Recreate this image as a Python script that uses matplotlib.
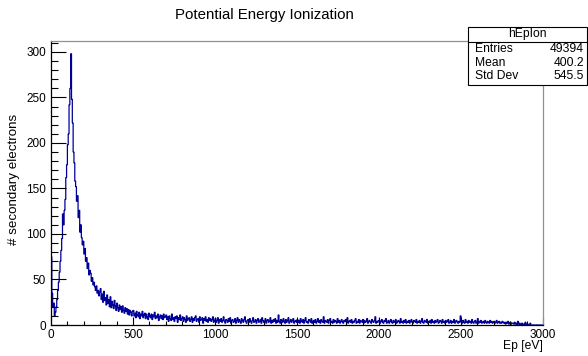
import numpy as np
import matplotlib
matplotlib.use('Agg')
import matplotlib.pyplot as plt
from matplotlib.patches import Rectangle
from matplotlib.lines import Line2D
from matplotlib.ticker import MultipleLocator

plt.rcParams['font.family'] = ['Liberation Sans', 'DejaVu Sans']

title = "Potential Energy Ionization"
x_label = "Ep [eV]"
y_label = "# secondary electrons"
hist_name = "hEpIon"
stat_names = ["Entries", "Mean", "Std Dev"]
stat_values = ["49394", "400.2", "545.5"]
bin_width = 5  # eV
x_range = (0, 3000)
y_max = 312
x_ticks = [0, 500, 1000, 1500, 2000, 2500, 3000]
y_ticks = [0, 50, 100, 150, 200, 250, 300]

# bin contents (5 eV bins)
counts_0_150 = [75, 35, 20, 24, 10, 14, 20, 28, 38, 47,
                58, 70, 82, 95, 122, 110, 126, 138, 162, 176,
                198, 210, 242, 260, 298, 248, 222, 190, 178, 158]
counts_150_300 = [152, 136, 142, 118, 126, 102, 110, 96, 88, 92,
                  78, 84, 70, 74, 62, 68, 55, 60, 57, 48,
                  52, 44, 47, 42, 38, 43, 35, 38, 32, 36]
counts_300_500 = [40, 28, 34, 25, 37, 27, 30, 22, 33, 24,
                  28, 20, 31, 19, 26, 22, 18, 27, 21, 16,
                  24, 19, 15, 22, 17, 20, 14, 21, 16, 13,
                  19, 15, 18, 12, 17, 11, 16, 14, 10, 15]
counts_500_700 = [16, 10, 13, 8, 15, 11, 9, 14, 7, 12,
                  10, 15, 8, 11, 13, 7, 12, 9, 6, 13,
                  10, 8, 12, 6, 11, 9, 14, 7, 10, 8,
                  12, 5, 9, 11, 7, 10, 6, 12, 8, 9]
counts_700_1000 = [11, 6, 9, 4, 10, 7, 5, 12, 6, 8, 4, 9, 7, 10, 3,
                   8, 6, 11, 5, 7, 9, 4, 8, 6, 3, 10, 5, 7, 8, 4,
                   6, 9, 3, 7, 5, 8, 10, 4, 6, 7, 3, 9, 5, 6, 8,
                   2, 7, 5, 9, 4, 6, 3, 8, 5, 7, 4, 6, 9, 3, 5]
counts_1000_1500 = [7, 3, 5, 8, 2, 6, 4, 7, 3, 5, 9, 4, 2, 6, 5, 3, 7, 4, 8, 2,
                    5, 6, 3, 4, 7, 2, 5, 8, 3, 6, 4, 2, 7, 5, 3, 6, 9, 4, 2, 5,
                    6, 3, 7, 4, 2, 5, 8, 3, 4, 6, 2, 5, 7, 3, 4, 6, 2, 8, 5, 3,
                    4, 7, 2, 5, 6, 3, 4, 8, 2, 5, 3, 6, 4, 7, 2, 5, 3, 11, 4, 2,
                    6, 5, 3, 7, 4, 2, 6, 3, 5, 8, 2, 4, 6, 3, 5, 7, 2, 4, 5, 3]
counts_1500_2000 = [6, 3, 5, 2, 7, 4, 3, 6, 2, 5, 8, 3, 4, 2, 6, 5, 3, 7, 2, 4,
                    5, 3, 6, 2, 4, 7, 3, 5, 2, 6, 4, 3, 9, 2, 5, 4, 3, 6, 2, 5,
                    7, 3, 4, 2, 6, 3, 5, 4, 2, 7, 3, 5, 2, 4, 6, 3, 2, 5, 4, 6,
                    3, 8, 2, 4, 5, 3, 6, 2, 4, 3, 5, 7, 2, 4, 3, 6, 2, 5, 4, 3,
                    6, 2, 5, 3, 4, 7, 2, 4, 5, 3, 2, 6, 4, 3, 5, 9, 2, 4, 3, 5]
counts_2000_2500 = [5, 2, 4, 6, 3, 2, 5, 4, 7, 2, 3, 5, 2, 4, 6, 3, 2, 5, 3, 4,
                    6, 2, 3, 5, 4, 2, 7, 3, 4, 2, 5, 3, 6, 2, 4, 3, 5, 2, 4, 6,
                    3, 2, 5, 4, 3, 6, 2, 4, 3, 5, 2, 4, 7, 3, 2, 5, 4, 3, 6, 2,
                    4, 3, 5, 2, 6, 3, 4, 2, 5, 3, 4, 6, 2, 3, 5, 4, 2, 6, 3, 4,
                    2, 5, 3, 4, 6, 2, 3, 5, 2, 4, 3, 6, 2, 4, 5, 3, 2, 4, 3, 10]
counts_2500_3000 = [4, 2, 5, 3, 2, 6, 3, 4, 2, 5, 3, 4, 2, 6, 3, 2, 4, 5, 2, 3,
                    7, 2, 4, 3, 5, 2, 3, 4, 2, 5, 3, 2, 4, 3, 2, 5, 3, 4, 2, 3,
                    4, 2, 3, 5, 2, 3, 4, 2, 3, 2, 4, 3, 2, 3, 1, 3, 2, 4, 1, 2,
                    3, 1, 2, 2, 1, 3, 1, 2, 0, 4, 1, 2, 0, 1, 2, 0, 1, 0, 3, 1,
                    0, 1, 0, 0, 2, 0, 0, 0, 0, 0, 0, 0, 0, 0, 0, 0, 0, 0, 0, 0]

counts = (counts_0_150 + counts_150_300 + counts_300_500 + counts_500_700 +
          counts_700_1000 + counts_1000_1500 + counts_1500_2000 +
          counts_2000_2500 + counts_2500_3000)
edges = np.arange(len(counts) + 1) * bin_width

W, H = 588, 356
fig = plt.figure(figsize=(W / 100, H / 100), dpi=100)
ax = fig.add_axes([51 / W, 1 - 325 / H, 492 / W, 284 / H])

ax.stairs(counts, edges, color='#000099', lw=0.9)

ax.set_xlim(*x_range)
ax.set_ylim(0, y_max)
ax.set_xticks(x_ticks)
ax.set_yticks(y_ticks)
ax.xaxis.set_minor_locator(MultipleLocator(100))
ax.yaxis.set_minor_locator(MultipleLocator(10))
ax.tick_params(axis='both', which='both', direction='in', labelsize=8.5,
               color='black', width=0.8)
ax.tick_params(axis='x', which='major', length=6.1, pad=3)
ax.tick_params(axis='x', which='minor', length=3.1)
ax.tick_params(axis='y', which='major', length=10.6, pad=3.5)
ax.tick_params(axis='y', which='minor', length=5.3)
for s in ['left', 'bottom']:
    ax.spines[s].set_color('black')
    ax.spines[s].set_linewidth(0.9)
for s in ['top', 'right']:
    ax.spines[s].set_color('#909090')
    ax.spines[s].set_linewidth(0.9)

fig.text(264 / W, 1 - 15 / H, title, ha='center', va='center', fontsize=10.8)
fig.text(543 / W, 1 - 346 / H, x_label, ha='right', va='center', fontsize=8.7)
fig.text(14 / W, 1 - 179 / H, y_label, ha='center', va='center',
         rotation=90, fontsize=9.6)

# stats box
bx0, bx1, by0, by1 = 468, 587, 27, 85
fig.patches.append(Rectangle((bx0 / W, 1 - by1 / H), (bx1 - bx0) / W,
                             (by1 - by0) / H, transform=fig.transFigure,
                             facecolor='white', edgecolor='black', lw=0.8,
                             zorder=5))
fig.lines.append(Line2D([bx0 / W, bx1 / W], [1 - 42 / H, 1 - 42 / H],
                        transform=fig.transFigure, color='black', lw=0.8,
                        zorder=6))
fig.text((bx0 + bx1) / 2 / W, 1 - 34.5 / H, hist_name, ha='center',
         va='center', fontsize=8.7, zorder=7)
for i, (n, v) in enumerate(zip(stat_names, stat_values)):
    yy = 1 - (49 + 13.5 * i) / H
    fig.text(475 / W, yy, n, ha='left', va='center', fontsize=8.7, zorder=7)
    fig.text(584 / W, yy, v, ha='right', va='center', fontsize=8.7, zorder=7)

fig.savefig('out.png', dpi=100)
